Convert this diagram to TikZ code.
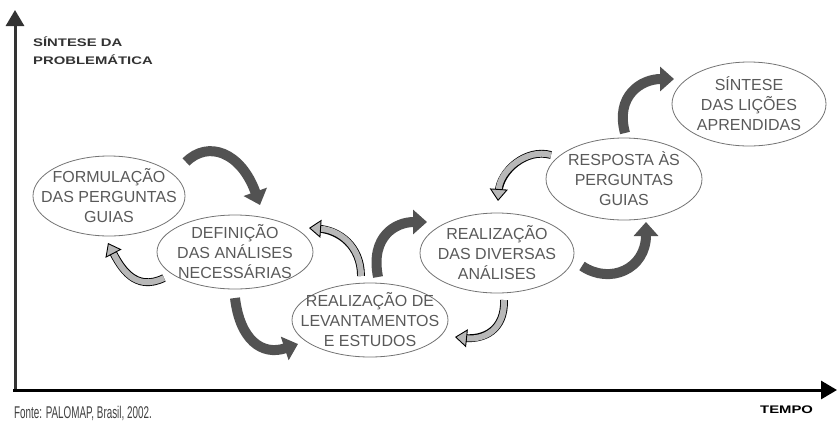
\documentclass[tikz,border=0pt]{standalone}
\usepackage{fontspec}
\setmainfont{Liberation Sans}
\newfontfamily\widefont[FakeStretch=1.35]{Liberation Sans}
\newfontfamily\narrowfont[FakeStretch=0.58]{Liberation Sans}
\usetikzlibrary{shapes.geometric,arrows.meta}
\tikzset{
  stage/.style={ellipse, draw=black!55, line width=0.8pt, inner sep=0pt,
    minimum width=155pt, minimum height=78pt},
  every label/.style={align=center, text=black!65,
    font=\fontsize{16}{20}\selectfont},
  darkarrow/.style={line width=10pt, draw=black!68,
    -{Triangle[length=14pt,width=24pt]}},
  lightarrow/.style={line width=6pt, draw=black!28,
    -{Triangle[length=12pt,width=18pt,line width=0.9pt,color=black,fill=black!28]},
    preaction={draw=black, line width=7.8pt, -, shorten >=9pt}},
  axis/.style={line width=3pt, -{Triangle[length=16pt,width=18pt]}}
}
\begin{document}
\begin{tikzpicture}[x=1pt,y=-1pt]
  \useasboundingbox (0,0) rectangle (837,426);
  \coordinate (orig) at (13,390);
  \coordinate (ytop) at (15,10);
  \coordinate (xend) at (837,390);
  \draw[axis, black!80] (15,391) -- (ytop);
  \draw[axis] (orig) -- (xend);
  \node[anchor=north west, align=left, inner sep=0pt, text=black!80,
    font=\widefont\bfseries\fontsize{11}{18}\selectfont] (ylab) at (33,37)
    {SÍNTESE DA\\PROBLEMÁTICA};
  \node[anchor=north west, inner sep=0pt,
    font=\widefont\bfseries\fontsize{11}{13}\selectfont] (xlab) at (760,406) {TEMPO};
  \node[anchor=north west, inner sep=0pt, text=black!75,
    font=\narrowfont\fontsize{17}{18}\selectfont] (fonte) at (14,406)
    {Fonte: PALOMAP, Brasil, 2002.};

  \node[stage, minimum width=152pt, minimum height=80pt,
    label={center:FORMULAÇÃO\\DAS PERGUNTAS\\GUIAS}] (e1) at (109,196) {};
  \node[stage, minimum width=156pt, minimum height=74pt,
    label={center:DEFINIÇÃO\\DAS ANÁLISES\\NECESSÁRIAS}] (e2) at (235,252) {};
  \node[stage, minimum width=156pt, minimum height=74pt,
    label={center:REALIZAÇÃO DE\\LEVANTAMENTOS\\E ESTUDOS}] (e3) at (370,320) {};
  \node[stage, minimum width=154pt, minimum height=80pt,
    label={center:REALIZAÇÃO\\DAS DIVERSAS\\ANÁLISES}] (e4) at (497,253) {};
  \node[stage, minimum width=156pt, minimum height=82pt,
    label={center:RESPOSTA ÀS\\PERGUNTAS\\GUIAS}] (e5) at (624,179) {};
  \node[stage, minimum width=154pt, minimum height=84pt,
    label={center:SÍNTESE\\DAS LIÇÕES\\APRENDIDAS}] (e6) at (749,104) {};

  \coordinate (a1s) at (186,162);  \coordinate (a1e) at (260,205);
  \coordinate (a2s) at (235,298);  \coordinate (a2e) at (298,344);
  \coordinate (a3s) at (378,277);  \coordinate (a3e) at (427,222);
  \coordinate (a4s) at (582,266);  \coordinate (a4e) at (646,222);
  \coordinate (a5s) at (625,133);  \coordinate (a5e) at (674,79);
  \coordinate (b1s) at (164,278);  \coordinate (b1e) at (108,243);
  \coordinate (b2s) at (361,276);  \coordinate (b2e) at (309,228);
  \coordinate (b3s) at (504,300);  \coordinate (b3e) at (455,337);
  \coordinate (b4s) at (551,155);  \coordinate (b4e) at (498,201);

  \draw[darkarrow] (a1s) .. controls +(22,-22) and +(-19,-53) .. (a1e);
  \draw[darkarrow] (a2s) .. controls +(5,42) and +(-36,12) .. (a2e);
  \draw[darkarrow] (a3s) .. controls +(-8,-41) and +(-31,0) .. (a3e);
  \draw[darkarrow] (a4s) .. controls +(28,19) and +(0,47) .. (a4e);
  \draw[darkarrow] (a5s) .. controls +(-10,-37) and +(-33,0) .. (a5e);

  \draw[lightarrow] (b1s) .. controls +(-29,14) and +(13,25) .. (b1e);
  \draw[lightarrow] (b2s) .. controls +(0,-30) and +(30,2) .. (b2e);
  \draw[lightarrow] (b3s) .. controls +(1,30) and +(29,3) .. (b3e);
  \draw[lightarrow] (b4s) .. controls +(-25,-7) and +(2,-30) .. (b4e);
\end{tikzpicture}
\end{document}
